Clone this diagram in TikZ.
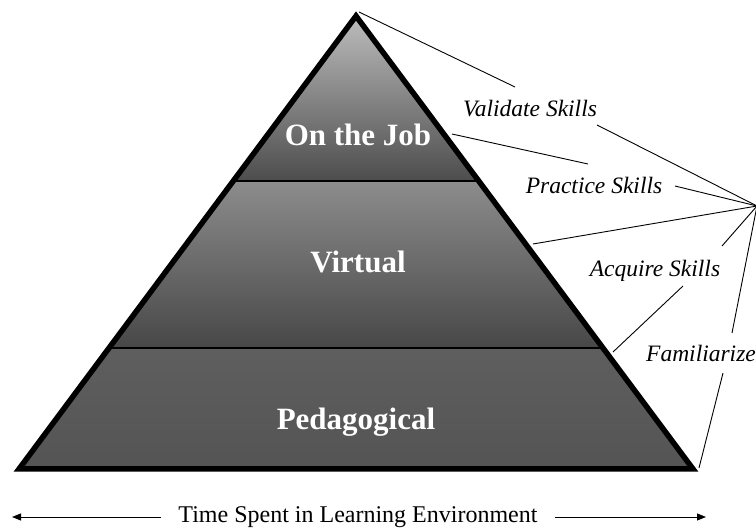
\documentclass[tikz,border=0pt]{standalone}
\usepackage{fontspec}
\setmainfont{Liberation Serif}
\usetikzlibrary{arrows.meta}
\definecolor{bandAtop}{gray}{0.74}
\definecolor{bandAbot}{gray}{0.30}
\definecolor{bandBtop}{gray}{0.55}
\definecolor{bandBbot}{gray}{0.28}
\definecolor{bandCtop}{gray}{0.37}
\definecolor{bandCbot}{gray}{0.33}
\begin{document}
\begin{tikzpicture}[x=1pt,y=-1pt,
  layername/.style={text=white,font=\fontsize{31}{36}\selectfont\bfseries,anchor=base,inner sep=0pt},
  skill/.style={font=\fontsize{23.5}{28}\selectfont\itshape,anchor=base,inner sep=0pt},
  leader/.style={line width=0.9pt},
  divider/.style={line width=2.8pt},
  outline/.style={line width=5.5pt,line join=miter},
  timearrow/.style={line width=0.9pt,-{Triangle[length=9pt,width=7pt]}}]
\useasboundingbox (0,0) rectangle (756,529);
\clip (0,0) rectangle (756,529);
\fill[white] (0,0) rectangle (756,529);

% pyramid corners and band boundaries
\coordinate (A)  at (356,16);
\coordinate (BL) at (19,469);
\coordinate (BR) at (693,469);
\coordinate (L1) at (233.3,181);
\coordinate (R1) at (478.7,181);
\coordinate (L2) at (109,348);
\coordinate (R2) at (603,348);

% shaded bands
\shade[top color=bandAtop,bottom color=bandAbot] (A) -- (R1) -- (L1) -- cycle;
\shade[top color=bandBtop,bottom color=bandBbot] (L1) -- (R1) -- (R2) -- (L2) -- cycle;
\shade[top color=bandCtop,bottom color=bandCbot] (L2) -- (R2) -- (BR) -- (BL) -- cycle;

% dividers and outline
\draw[divider] (L1) -- (R1);
\draw[divider] (L2) -- (R2);
\draw[outline] (A) -- (BR) -- (BL) -- cycle;

% layer names
\node[layername] (job)  at (358,146) {On the Job};
\node[layername] (virt) at (358,273) {Virtual};
\node[layername] (ped)  at (356,430) {Pedagogical};

% skill labels
\node[skill] (val)  at (530,117) {Validate Skills};
\node[skill] (prac) at (594,194) {Practice Skills};
\node[skill] (acq)  at (655,277) {Acquire Skills};
\node[skill] (fam)  at (701,362) {Familiarize};

% leader lines converging to a common point
\coordinate (F)   at (757,206);
\coordinate (top) at (359,12);
\coordinate (va)  at (515,87);
\coordinate (vb)  at (597,125);
\coordinate (p2)  at (452,134);
\coordinate (pa)  at (588,164);
\coordinate (pb)  at (675,186);
\coordinate (p3)  at (533,244);
\coordinate (p4)  at (613,352);
\coordinate (aa)  at (683,286);
\coordinate (ab)  at (722,246);
\coordinate (p5)  at (699,468);
\coordinate (fa)  at (723,373);
\coordinate (fb)  at (732,333);

\draw[leader] (top) -- (va);
\draw[leader] (vb) -- (F);
\draw[leader] (p2) -- (pa);
\draw[leader] (pb) -- (F);
\draw[leader] (p3) -- (F);
\draw[leader] (p4) -- (aa);
\draw[leader] (ab) -- (F);
\draw[leader] (p5) -- (fa);
\draw[leader] (fb) -- (F);

% time axis
\node[font=\fontsize{24}{28}\selectfont,inner xsep=17pt,inner ysep=0pt] (time) at (358,517) {Time Spent in Learning Environment};
\coordinate (larr) at (12,517);
\coordinate (rarr) at (706,517);
\draw[timearrow] (time.west) -- (larr);
\draw[timearrow] (time.east) -- (rarr);
\end{tikzpicture}
\end{document}
